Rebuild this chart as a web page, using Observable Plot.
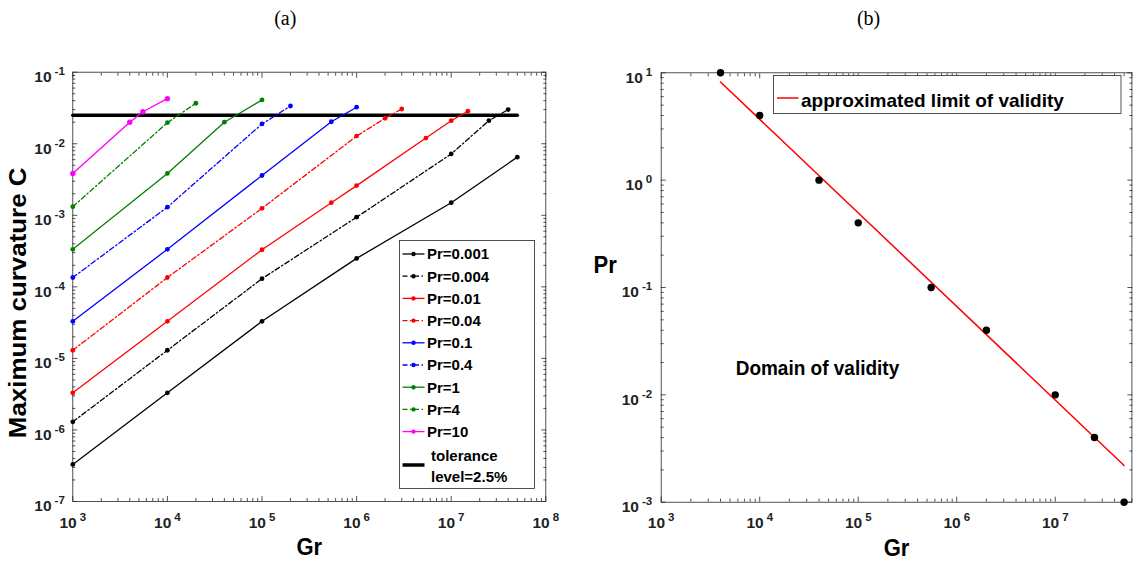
<!DOCTYPE html>
<html>
<head>
<meta charset="utf-8">
<script src="https://cdn.jsdelivr.net/npm/d3@7"></script>
<script src="https://cdn.jsdelivr.net/npm/@observablehq/plot@0.6"></script>
<style>
  body { margin: 0; background: #fff; }
  #wrap { position: relative; width: 1137px; height: 564px; overflow: hidden; background: #fff; }
  #wrap > svg { position: absolute; top: 0; }
</style>
</head>
<body>
<div id="wrap"></div>
<script>
// ---------------- Data: panel (a) ----------------
const prLabels = ["Pr=0.001", "Pr=0.004", "Pr=0.01", "Pr=0.04", "Pr=0.1", "Pr=0.4", "Pr=1", "Pr=4", "Pr=10"];
const grPr0001 = [1e3, 1e4, 1e5, 1e6, 1e7, 5e7];
const cPr0001  = [3.3e-7, 3.3e-6, 3.3e-5, 2.5e-4, 1.5e-3, 6.5e-3];
const grPr0004 = [1e3, 1e4, 1e5, 1e6, 1e7, 2.5e7, 4e7];
const cPr0004  = [1.3e-6, 1.3e-5, 1.3e-4, 9.4e-4, 7.2e-3, 0.021, 0.030];
const grPr001  = [1e3, 1e4, 1e5, 5.4e5, 1e6, 5.4e6, 1e7, 1.5e7];
const cPr001   = [3.3e-6, 3.3e-5, 3.3e-4, 1.5e-3, 2.6e-3, 0.012, 0.021, 0.0285];
const grPr004  = [1e3, 1e4, 1e5, 1e6, 2e6, 3e6];
const cPr004   = [1.3e-5, 1.35e-4, 1.25e-3, 0.0128, 0.0227, 0.0306];
const grPr01   = [1e3, 1e4, 1e5, 5.4e5, 1e6];
const cPr01    = [3.3e-5, 3.35e-4, 3.6e-3, 0.0203, 0.0324];
const grPr04   = [1e3, 1e4, 1e5, 2e5];
const cPr04    = [1.35e-4, 1.3e-3, 0.0189, 0.0337];
const grPr1    = [1e3, 1e4, 4e4, 1e5];
const cPr1     = [3.35e-4, 3.85e-3, 0.02, 0.041];
const grPr4    = [1e3, 1e4, 2e4];
const cPr4     = [1.32e-3, 0.0197, 0.0368];
const grPr10   = [1e3, 4e3, 5.5e3, 1e4];
const cPr10    = [3.85e-3, 0.02, 0.028, 0.0427];
const toleranceGr = [1e3, 5e7];
const toleranceC  = 0.025;
const toleranceLabel = ["tolerance", "level=2.5%"];
const xDomainA = [1e3, 1e8];
const yDomainA = [1e-7, 1e-1];
const yTitleA = "Maximum curvature C";
const xTitle = "Gr";

// ---------------- Data: panel (b) ----------------
const limitGr = [4e3, 1e4, 4e4, 1e5, 5.5e5, 2e6, 1e7, 2.5e7, 5e7];
const limitPr = [10, 4, 1, 0.4, 0.1, 0.04, 0.01, 0.004, 0.001];
const fitGr = [4e3, 5e7];
const fitPr = [8.2, 2.2e-3];
const fitLabel = "approximated limit of validity";
const domainLabel = "Domain of validity";
const domainGr = 5.7e3;
const domainPr = 0.0175;
const xDomainB = [1e3, 6e7];
const yDomainB = [1e-3, 10];
const yTitleB = "Pr";

// ---------------- Styles ----------------
const FONT = '"Liberation Sans", Arial, Helvetica, sans-serif';
const SERIF = '"Liberation Serif", "Times New Roman", serif';
const seriesColor  = ["#000000", "#000000", "#ff0000", "#ff0000", "#0000ff", "#0000ff", "#008000", "#008000", "#ff00ff"];
const seriesDashed = [false, true, false, true, false, true, false, true, false];
const DASHDOT = "5,2.5,1.5,2.5";
const AXIS = "#262626";

const seriesGr = [grPr0001, grPr0004, grPr001, grPr004, grPr01, grPr04, grPr1, grPr4, grPr10];
const seriesC  = [cPr0001, cPr0004, cPr001, cPr004, cPr01, cPr04, cPr1, cPr4, cPr10];
const seriesRows = seriesGr.map((g, i) => g.map((gr, j) => ({pr: prLabels[i], gr, c: seriesC[i][j]})));
const tolRows = toleranceGr.map(gr => ({gr, c: toleranceC}));
const limitRows = limitGr.map((gr, i) => ({gr, pr: limitPr[i]}));
const fitRows = fitGr.map((gr, i) => ({gr, pr: fitPr[i]}));

function logTicks([lo, hi]) {
  const out = [];
  for (let e = Math.floor(Math.log10(lo)); e <= Math.ceil(Math.log10(hi)); e++)
    for (let m = 1; m < 10; m++) {
      const v = +(m * Math.pow(10, e)).toPrecision(6);
      if (v >= lo * 0.9999 && v <= hi * 1.0001) out.push({v, major: m === 1});
    }
  return out;
}
const fmtPow = d => "10^" + Math.round(Math.log10(d));

function boxTicks(xDom, yDom) {
  const xt = logTicks(xDom), yt = logTicks(yDom);
  const xMaj = xt.filter(t => t.major).map(t => t.v), xMin = xt.filter(t => !t.major).map(t => t.v);
  const yMaj = yt.filter(t => t.major).map(t => t.v), yMin = yt.filter(t => !t.major).map(t => t.v);
  const o = {fill: "none", stroke: AXIS, strokeWidth: 0.8, label: null, tickFormat: () => ""};
  return {
    xMaj, yMaj,
    marks: [
      Plot.axisX(xMaj, {...o, anchor: "bottom", tickSize: -5}),
      Plot.axisX(xMin, {...o, anchor: "bottom", tickSize: -3}),
      Plot.axisX(xMaj, {...o, anchor: "top", tickSize: -5}),
      Plot.axisX(xMin, {...o, anchor: "top", tickSize: -3}),
      Plot.axisY(yMaj, {...o, anchor: "left", tickSize: -5}),
      Plot.axisY(yMin, {...o, anchor: "left", tickSize: -3}),
      Plot.axisY(yMaj, {...o, anchor: "right", tickSize: -5}),
      Plot.axisY(yMin, {...o, anchor: "right", tickSize: -3})
    ]
  };
}

function superscripts(svg) {
  d3.select(svg).selectAll("text").each(function () {
    const m = /^10\^(-?\d+)$/.exec(this.textContent);
    if (!m) return;
    const s = d3.select(this);
    s.text(null);
    s.append("tspan").text("10");
    s.append("tspan").attr("dx", 3).attr("dy", -7).attr("font-size", "11.5px").text(m[1]);
  });
}
function stretch(svg, str, sx, sy) {
  d3.select(svg).selectAll("text").filter(function () { return this.textContent === str; })
    .attr("transform", function () { return (this.getAttribute("transform") || "") + ` scale(${sx},${sy})`; });
}

const wrap = document.getElementById("wrap");
const titleOpts = {text: d => d, fontWeight: "bold", fill: "#000", textAnchor: "middle", lineAnchor: "middle"};

// ---------------- Panel (a) ----------------
const ta = boxTicks(xDomainA, yDomainA);
const marksA = [
  Plot.frame({stroke: AXIS, strokeWidth: 0.8}),
  ...ta.marks,
  Plot.axisX(ta.xMaj, {anchor: "bottom", tickSize: 0, tickPadding: 15, tickFormat: fmtPow, label: null, fill: "#222"}),
  Plot.axisY(ta.yMaj, {anchor: "left", tickSize: 0, tickPadding: 8, tickFormat: fmtPow, label: null, dy: 5, fill: "#222"}),
  Plot.line(tolRows, {x: "gr", y: "c", stroke: "#000", strokeWidth: 3.5})
];
seriesRows.forEach((rows, i) => {
  marksA.push(Plot.line(rows, {x: "gr", y: "c", stroke: seriesColor[i], strokeWidth: 1.3,
    strokeDasharray: seriesDashed[i] ? DASHDOT : null}));
  marksA.push(Plot.dot(rows, {x: "gr", y: "c", fill: seriesColor[i], r: i === 8 ? 2.7 : 2.4}));
});
marksA.push(
  Plot.text([yTitleA], {...titleOpts, frameAnchor: "left", rotate: -90, dx: -54, dy: 16, fontSize: 24}),
  Plot.text([xTitle], {...titleOpts, frameAnchor: "bottom", dy: 46, fontSize: 22}),
  Plot.text(["(a)"], {...titleOpts, frameAnchor: "top", dx: -24, dy: -54, fontSize: 20, fontWeight: "normal", fontFamily: SERIF})
);

const plotA = Plot.plot({
  width: 570, height: 564,
  marginLeft: 72.3, marginRight: 24.7, marginTop: 71.7, marginBottom: 63,
  x: {type: "log", domain: xDomainA, label: null},
  y: {type: "log", domain: yDomainA, label: null},
  style: {fontFamily: FONT, fontSize: "15.5px", fontWeight: "bold", color: "#000", background: "transparent", overflow: "visible"},
  marks: marksA
});
plotA.style.left = "0px";
superscripts(plotA);
stretch(plotA, yTitleA, 1.08, 1);
stretch(plotA, xTitle, 1, 1.1);
wrap.appendChild(plotA);

// ---------------- Panel (b) ----------------
const tb = boxTicks(xDomainB, yDomainB);
const plotB = Plot.plot({
  width: 567, height: 564,
  marginLeft: 90.7, marginRight: 5.6, marginTop: 72.3, marginBottom: 62.3,
  x: {type: "log", domain: xDomainB, label: null},
  y: {type: "log", domain: yDomainB, label: null},
  style: {fontFamily: FONT, fontSize: "15.5px", fontWeight: "bold", color: "#000", background: "transparent", overflow: "visible"},
  marks: [
    Plot.frame({stroke: AXIS, strokeWidth: 0.8}),
    ...tb.marks,
    Plot.axisX(tb.xMaj, {anchor: "bottom", tickSize: 0, tickPadding: 15, tickFormat: fmtPow, label: null, fill: "#222"}),
    Plot.axisY(tb.yMaj, {anchor: "left", tickSize: 0, tickPadding: 9, tickFormat: fmtPow, label: null, dy: 5, fill: "#222"}),
    Plot.line(fitRows, {x: "gr", y: "pr", stroke: "#ff0000", strokeWidth: 1.5}),
    Plot.dot(limitRows, {x: "gr", y: "pr", fill: "#000", r: 3.7}),
    Plot.text([domainLabel], {text: d => d, x: () => domainGr, y: () => domainPr, textAnchor: "start", fontSize: 19, fontWeight: "bold", fill: "#000"}),
    Plot.text([yTitleB], {...titleOpts, frameAnchor: "left", dx: -56, dy: -22, fontSize: 22}),
    Plot.text([xTitle], {...titleOpts, frameAnchor: "bottom", dy: 46, fontSize: 22}),
    Plot.text(["(b)"], {...titleOpts, frameAnchor: "top", dx: -28, dy: -54, fontSize: 20, fontWeight: "normal", fontFamily: SERIF})
  ]
});
plotB.style.left = "570px";
superscripts(plotB);
stretch(plotB, xTitle, 1, 1.1);
stretch(plotB, yTitleB, 1, 1.1);
stretch(plotB, domainLabel, 1, 1.1);
wrap.appendChild(plotB);

// ---------------- Legend (a) ----------------
const legA = d3.create("svg").attr("width", 136).attr("height", 249)
  .style("position", "absolute").style("left", "399px").style("top", "240px")
  .style("font-family", FONT).style("font-weight", "bold");
legA.append("rect").attr("x", 0.5).attr("y", 0.5).attr("width", 135).attr("height", 248)
  .attr("fill", "#fff").attr("stroke", AXIS).attr("stroke-width", 0.8);
prLabels.forEach((lab, i) => {
  const cy = 14 + 22.2 * i;
  legA.append("line").attr("x1", 3.5).attr("x2", 25.5).attr("y1", cy).attr("y2", cy)
    .attr("stroke", seriesColor[i]).attr("stroke-width", 1.3)
    .attr("stroke-dasharray", seriesDashed[i] ? DASHDOT : null);
  legA.append("circle").attr("cx", 14.5).attr("cy", cy).attr("r", 2.2).attr("fill", seriesColor[i]);
  legA.append("text").attr("x", 28).attr("y", cy + 5.3).attr("font-size", "15px").attr("fill", "#000").text(lab);
});
legA.append("line").attr("x1", 3.5).attr("x2", 25.5).attr("y1", 225).attr("y2", 225)
  .attr("stroke", "#000").attr("stroke-width", 3.5);
toleranceLabel.forEach((t, k) => {
  legA.append("text").attr("x", 32).attr("y", 220.5 + 21.7 * k).attr("font-size", "15px").attr("fill", "#000").text(t);
});
wrap.appendChild(legA.node());

// ---------------- Legend (b) ----------------
const legB = d3.create("svg").attr("width", 349).attr("height", 39)
  .style("position", "absolute").style("left", "773px").style("top", "75px")
  .style("font-family", FONT).style("font-weight", "bold");
legB.append("rect").attr("x", 0.5).attr("y", 0.5).attr("width", 347.5).attr("height", 38)
  .attr("fill", "#fff").attr("stroke", AXIS).attr("stroke-width", 0.8);
legB.append("line").attr("x1", 4).attr("x2", 25.5).attr("y1", 23).attr("y2", 23)
  .attr("stroke", "#ff0000").attr("stroke-width", 1.5);
legB.append("text").attr("x", 28).attr("y", 31.5).attr("font-size", "19px").attr("fill", "#000").text(fitLabel);
wrap.appendChild(legB.node());
</script>
</body>
</html>
